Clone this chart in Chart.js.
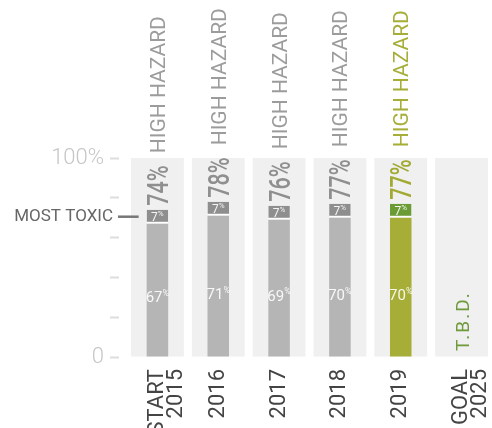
<!DOCTYPE html>
<html>
<head>
<meta charset="utf-8">
<script src="https://cdn.jsdelivr.net/npm/chart.js@4.4.1/dist/chart.umd.min.js"></script>
<style>
  body { margin: 0; background: #fff; }
  #wrap { width: 492px; height: 428px; }
</style>
</head>
<body>
<div id="wrap"><canvas id="myChart" width="492" height="428"></canvas></div>
<script>
const categories = [["START", "2015"], "2016", "2017", "2018", "2019", ["GOAL", "2025"]];
const baseValues = [67, 71, 69, 70, 70, null];
const toxicValues = [7, 7, 7, 7, 7, null];
const hazardTotals = [74, 78, 76, 77, 77, null];
const panelValues = [100, 100, 100, 100, 100, 100];
const yTickLabels = { 0: "0", 100: "100%" };
const highlightIndex = 4;
const goalText = "T.B.D.";
const toxicLabel = "MOST TOXIC";

const grayBase = "#b5b5b5";
const grayTop = "#8e8e8e";
const olive = "#a7ae38";
const green = "#6b9b35";

const baseColors = baseValues.map((v, i) => (i === highlightIndex ? olive : grayBase));
const topColors = toxicValues.map((v, i) => (i === highlightIndex ? green : grayTop));

const ctx = document.getElementById("myChart");

function drawSup(c, big, small, x, y, bigSize, smallSize) {
  c.font = `400 ${bigSize}px Roboto`;
  const w1 = c.measureText(big).width;
  c.font = `400 ${smallSize}px Roboto`;
  const w2 = c.measureText(small).width;
  const left = x - (w1 + w2) / 2;
  c.textAlign = "left";
  c.textBaseline = "alphabetic";
  c.font = `400 ${bigSize}px Roboto`;
  c.fillText(big, left, y + bigSize * 0.36);
  c.font = `400 ${smallSize}px Roboto`;
  c.fillText(small, left + w1, y - bigSize * 0.05);
}

const labelsPlugin = {
  id: "labels",
  afterDatasetsDraw(chart) {
    const c = chart.ctx;
    const yScale = chart.scales.y;
    const area = chart.chartArea;
    const baseMeta = chart.getDatasetMeta(1);

    c.save();
    // values inside the bars
    c.fillStyle = "rgba(255,255,255,0.9)";
    baseValues.forEach((v, i) => {
      if (v == null) return;
      const bar = baseMeta.data[i];
      drawSup(c, String(v), "%", bar.x, yScale.getPixelForValue(v * 0.45), 15, 9);
      const t = toxicValues[i];
      drawSup(c, String(t), "%", bar.x, yScale.getPixelForValue(v + t / 2), 12, 8);
    });

    // rotated "xx% HIGH HAZARD" labels
    hazardTotals.forEach((v, i) => {
      if (v == null) return;
      const bar = baseMeta.data[i];
      const top = yScale.getPixelForValue(v) - 4;
      const hi = i === highlightIndex;
      c.save();
      c.font = "500 30px Roboto";
      const numText = v + "%";
      const numW = c.measureText(numText).width * 0.72;
      c.translate(bar.x + 10.5, top);
      c.rotate(-Math.PI / 2);
      c.scale(0.72, 1);
      c.fillStyle = hi ? "#a2aa34" : "#8f8f8f";
      c.textAlign = "left";
      c.textBaseline = "alphabetic";
      c.fillText(numText, 0, 0);
      c.restore();

      c.save();
      c.translate(bar.x + 7.5, top - numW - 12);
      c.rotate(-Math.PI / 2);
      c.font = "400 21px Roboto";
      c.fillStyle = hi ? "#a7ae38" : "#9c9c9c";
      c.textAlign = "left";
      c.fillText("HIGH HAZARD", 0, 0);
      c.restore();
    });

    // goal column text
    const goalIdx = categories.length - 1;
    const gx = chart.scales.x.getPixelForValue(goalIdx);
    c.save();
    c.translate(gx + 7, yScale.getPixelForValue(0) - 6);
    c.rotate(-Math.PI / 2);
    c.font = "400 19px Roboto";
    c.letterSpacing = "2px";
    c.fillStyle = "#6f9b3c";
    c.textAlign = "left";
    c.fillText(goalText, 0, 0);
    c.restore();

    // MOST TOXIC marker
    const my = yScale.getPixelForValue(baseValues[0] + toxicValues[0] / 2);
    const firstBar = baseMeta.data[0];
    c.strokeStyle = "#777";
    c.lineWidth = 2.5;
    c.beginPath();
    c.moveTo(area.left - 9, my);
    c.lineTo(firstBar.x - firstBar.width / 2 - 8, my);
    c.stroke();
    c.font = "400 17px Roboto";
    c.fillStyle = "#666";
    c.textAlign = "right";
    c.textBaseline = "middle";
    c.fillText(toxicLabel, area.left - 14, my);
    c.restore();
  },
};

const data = {
  labels: categories,
  datasets: [
    {
      label: "panel",
      data: panelValues,
      backgroundColor: "#f0f0f0",
      barPercentage: 0.868,
      categoryPercentage: 1,
      grouped: false,
      stack: "bg",
      order: 3,
    },
    {
      label: "high hazard",
      data: baseValues,
      backgroundColor: baseColors,
      barPercentage: 0.354,
      categoryPercentage: 1,
      grouped: false,
      stack: "main",
      order: 1,
    },
    {
      label: "most toxic",
      data: toxicValues,
      backgroundColor: topColors,
      borderColor: "#ffffff",
      borderWidth: { top: 0, left: 0, right: 0, bottom: 2 },
      borderSkipped: false,
      barPercentage: 0.354,
      categoryPercentage: 1,
      grouped: false,
      stack: "main",
      order: 1,
    },
  ],
};

const config = {
  type: "bar",
  data,
  options: {
    responsive: false,
    devicePixelRatio: 1,
    animation: false,
    layout: { padding: { top: 158, right: -8, bottom: 0, left: 0 } },
    plugins: { legend: { display: false }, tooltip: { enabled: false } },
    scales: {
      x: {
        offset: true,
        grid: { display: false, drawTicks: false },
        border: { display: false },
        ticks: {
          autoSkip: false,
          minRotation: 90,
          maxRotation: 90,
          padding: 12,
          color: "#444",
          font: { family: "Roboto", size: 22, lineHeight: 0.85 },
        },
        afterFit: (scale) => {
          scale.height = 71;
          scale.paddingLeft = 0;
          scale.paddingRight = 0;
        },
      },
      y: {
        stacked: true,
        min: 0,
        max: 100,
        grid: {
          drawOnChartArea: false,
          drawTicks: true,
          tickLength: 17,
          tickBorderDash: [9, 30],
          tickColor: "#dddddd",
          tickWidth: 2,
        },
        border: { display: false },
        ticks: {
          stepSize: 20,
          padding: 6,
          color: "#c6c6c6",
          font: { family: "Roboto", size: 22, weight: 300 },
          callback: (v) => (yTickLabels[v] !== undefined ? yTickLabels[v] : ""),
        },
        afterFit: (scale) => {
          scale.width = 127;
        },
      },
    },
  },
  plugins: [labelsPlugin],
};

let myChart = new Chart(ctx, config);
</script>
</body>
</html>
